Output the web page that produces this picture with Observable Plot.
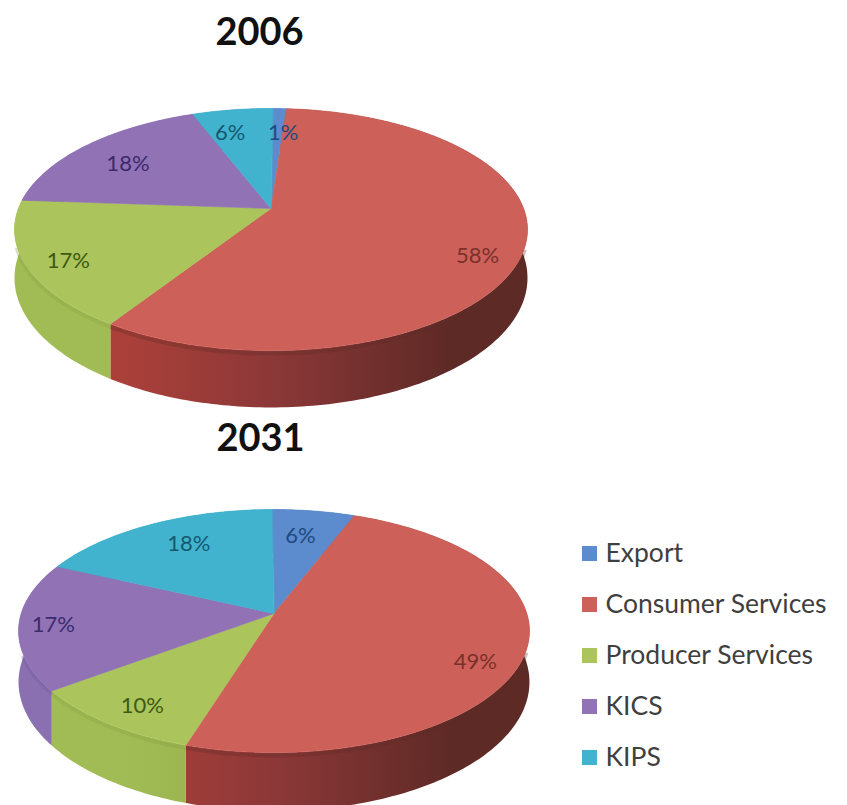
<!DOCTYPE html>
<html>
<head>
<meta charset="utf-8">
<title>Employment by sector, 2006 and 2031</title>
<script src="https://cdn.jsdelivr.net/npm/d3@7"></script>
<script src="https://cdn.jsdelivr.net/npm/@observablehq/plot@0.6"></script>
<style>
  html, body { margin: 0; padding: 0; background: #fff; }
  svg { display: block; }
</style>
</head>
<body>
<div id="chart"></div>
<script>
// Sectors, in the order the slices run clockwise from twelve o'clock
const sectors = ["Export", "Consumer Services", "Producer Services", "KICS", "KIPS"];
const shares2006 = [1, 58, 17, 18, 6];
const shares2031 = [6, 49, 10, 17, 18];

// Slice colours: top face, wall from left to right across the disc, label
const topColors   = ["#5c8ccd", "#cd6159", "#abc45c", "#9072b5", "#42b3cf"];
const wallLeft    = ["#4a74ad", "#ab403a", "#a2bc55", "#8a70b0", "#369ab2"];
const wallMiddle  = ["#426a9e", "#8c3838", "#93ad4a", "#755f9c", "#2f8aa0"];
const wallRight   = ["#345680", "#5e2a26", "#83a043", "#6c5894", "#27768a"];
const labelColors = ["#1f4a80", "#7a302c", "#3d5a12", "#3c2a6e", "#14596f"];

// Tilted-disc view of each pie: the disc is drawn in perspective, nearer edge larger
const views = [
  {year: "2006", shares: shares2006, cx: 270.5, cy: 208, rx: 252.6, ry: 117.4, persp: 0.1736, depth: 47, turn: 0.5,
   titleX: 259, titleY: 32, nudgeX: [5, 6, -10, 7, -9], nudgeY: [7, 16, 8, 7, 6]},
  {year: "2031", shares: shares2031, cx: 273.5, cy: 613, rx: 252.8, ry: 119, persp: 0.144, depth: 50, turn: -0.5,
   titleX: 260, titleY: 438, nudgeX: [-6, 3, -2, -17, 15], nudgeY: [7, 16, 7, 2, 3]}
];

const toRad = Math.PI / 180;

// Project a point on the unit disc (angle clockwise from the top, radius 0..1) to the page
function project(view, deg, radius = 1, lift = 0) {
  const a = (deg + view.turn) * toRad;
  const u = radius * Math.sin(a);
  const v = -radius * Math.cos(a);
  const w = 1 - view.persp * v;
  return {x: view.cx + view.rx * u / w, y: view.cy + (view.ry * v + lift) / w};
}

const faces = [];
const walls = [];
const rimShade = [];
const labels = [];
const gradients = [];

for (const view of views) {
  let running = 0;
  view.shares.forEach((share, i) => {
    const a0 = running * 3.6;
    const a1 = (running + share) * 3.6;
    const mid = (a0 + a1) / 2;
    running += share;

    const key = `${view.year}-${i}`;
    const rim = d3.range(a0, a1, 1).concat(a1);

    // Top face of the slice: apex, then the rim
    faces.push({key, color: topColors[i], ...project(view, 0, 0)});
    for (const a of rim) faces.push({key, color: topColors[i], ...project(view, a)});

    // Outer wall: the rim, then back along the lower edge, filled with a left-to-right gradient
    const paint = `url(#wall-${key})`;
    for (const a of rim) walls.push({key, paint, ...project(view, a)});
    for (const a of rim.slice().reverse()) walls.push({key, paint, ...project(view, a, 1, view.depth)});
    gradients.push({id: `wall-${key}`, view, i});

    // Soft shadow just below the rim, on the part of the wall facing the viewer
    for (const a of rim) {
      if (Math.cos(a * toRad) < -0.3) rimShade.push({key, color: wallRight[i], ...project(view, a, 1, 2.5)});
    }

    const anchor = project(view, mid, 0.8);
    labels.push({
      x: anchor.x + view.nudgeX[i],
      y: anchor.y + view.nudgeY[i],
      text: `${share}%`,
      color: labelColors[i]
    });
  });
}

const titles = views.map((v) => ({x: v.titleX, y: v.titleY, text: v.year}));
const legend = sectors.map((name, i) => ({name, color: topColors[i], row: i}));
const legendY = (d) => 553 + d.row * 51;

const chart = Plot.plot({
  width: 847,
  height: 805,
  margin: 0,
  x: {domain: [0, 847], range: [0, 847], axis: null},
  y: {domain: [0, 805], range: [0, 805], axis: null},
  color: {type: "identity"},
  style: {background: "#fff", fontFamily: "Lato, sans-serif"},
  marks: [
    Plot.line(walls, {x: "x", y: "y", z: "key", fill: "paint", stroke: "none", curve: "linear-closed"}),
    Plot.line(rimShade, {x: "x", y: "y", z: "key", stroke: "color", strokeWidth: 4, strokeOpacity: 0.3, strokeLinecap: "butt"}),
    Plot.line(faces, {x: "x", y: "y", z: "key", fill: "color", stroke: "color", strokeWidth: 0.6, curve: "linear-closed"}),
    Plot.text(labels, {x: "x", y: "y", text: "text", fill: "color", fontSize: 22, fontFamily: "Lato, sans-serif"}),
    Plot.text(titles, {x: "x", y: "y", text: "text", fill: "#111", fontSize: 38, fontWeight: 700, fontFamily: "Lato, sans-serif"}),
    Plot.dot(legend, {x: () => 589, y: legendY, fill: "color", symbol: "square", r: 8.5}),
    Plot.text(legend, {x: () => 605, y: legendY, text: "name", fill: "#3f3f3f", textAnchor: "start", fontSize: 26.5, fontFamily: "Lato, sans-serif"})
  ]
});

// Wall gradients run across the width of their own disc
const defs = d3.select(chart).insert("defs", ":first-child");
for (const {id, view, i} of gradients) {
  const g = defs.append("linearGradient")
    .attr("id", id)
    .attr("gradientUnits", "userSpaceOnUse")
    .attr("x1", view.cx - view.rx).attr("x2", view.cx + view.rx)
    .attr("y1", 0).attr("y2", 0);
  [[0.2, wallLeft[i]], [0.5, wallMiddle[i]], [0.85, wallRight[i]]].forEach(([offset, color]) => {
    g.append("stop").attr("offset", offset).attr("stop-color", color);
  });
}

document.getElementById("chart").append(chart);
</script>
</body>
</html>
